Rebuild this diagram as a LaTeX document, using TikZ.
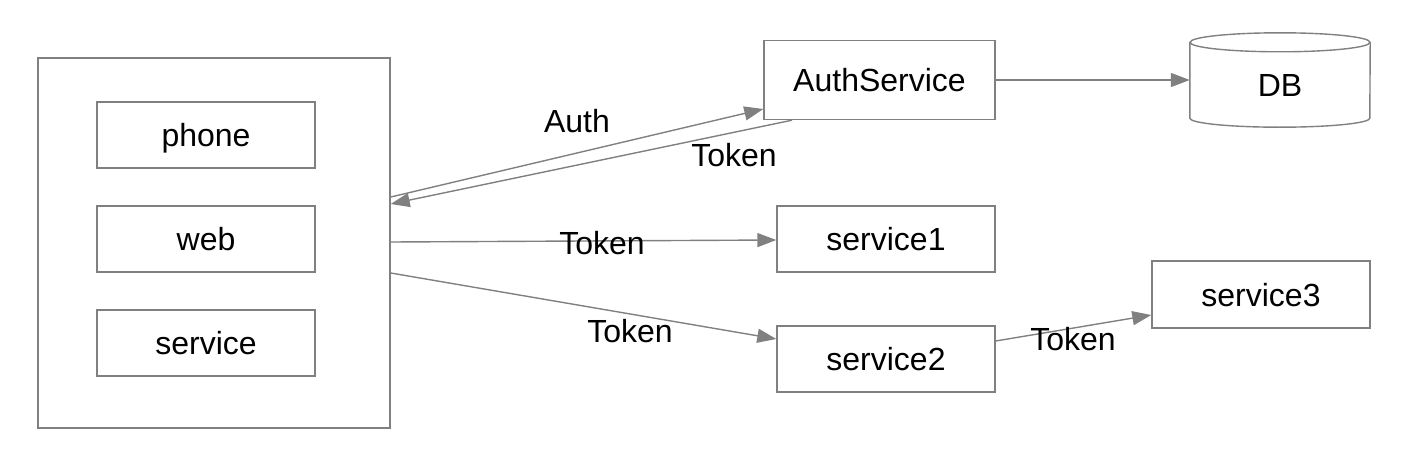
\documentclass[tikz,border=0pt]{standalone}
\usepackage{fontspec}
\setmainfont{Liberation Sans}
\usetikzlibrary{arrows.meta,calc}
\definecolor{edge}{RGB}{128,128,128}
\tikzset{
  txt/.style={font=\fontsize{32}{36}\selectfont, text height=23pt, text depth=0pt},
  box/.style={draw=edge, line width=1.4pt, rectangle, inner sep=0pt, txt},
  conn/.style={draw=edge, line width=1.4pt, -{Triangle[length=19pt,width=14pt]}},
  lbl/.style={inner sep=0pt, txt}
}
\begin{document}
\begin{tikzpicture}[x=1pt,y=-1pt]
\useasboundingbox (0,0) rectangle (1404,452);
% client group
\node[box, minimum width=352pt, minimum height=370pt] (outer) at (214,243) {};
\node[box, minimum width=218pt, minimum height=66pt] (phone) at (206,135) {phone};
\node[box, minimum width=218pt, minimum height=66pt] (web) at (206,239) {web};
\node[box, minimum width=218pt, minimum height=66pt] (service) at (206,343) {service};
% services
\node[box, minimum width=231pt, minimum height=79pt] (auth) at (879.5,80) {AuthService};
\node[box, minimum width=218pt, minimum height=66pt] (s1) at (886,239) {service1};
\node[box, minimum width=218pt, minimum height=66pt] (s2) at (886,359) {service2};
\node[box, minimum width=218pt, minimum height=67pt] (s3) at (1261,294.5) {service3};
% database cylinder
\node[inner sep=0pt, minimum width=180pt, minimum height=94pt] (db) at (1280,80) {};
\draw[draw=edge, line width=1.4pt]
  ([yshift=-9.5pt]db.north west) -- ([yshift=9pt]db.south west)
  arc[start angle=180, end angle=360, x radius=90pt, y radius=9pt]
  -- ([yshift=-9.5pt]db.north east);
\draw[draw=edge, line width=1.4pt] ([yshift=-9.5pt]db.north) ellipse[x radius=90pt, y radius=9.5pt];
\node[lbl] (dblabel) at ([yshift=-4.5pt]db.center) {DB};
% connectors
\draw[conn] ([yshift=46pt]outer.east) -- ([yshift=-29pt]auth.west);
\draw[conn] ([xshift=-87.5pt]auth.south) -- ([yshift=39pt]outer.east);
\draw[conn] ([yshift=1pt]outer.east) -- ([yshift=-1pt]s1.west);
\draw[conn] ([yshift=-30pt]outer.east) -- ([yshift=20pt]s2.west);
\draw[conn] ([yshift=18pt]s2.east) -- ([yshift=-20.5pt]s3.west);
\draw[conn] (auth.east) -- (db.west);
% labels
\node[lbl] (lauth) at (577,121) {Auth};
\node[lbl] (ltok0) at (734,154.5) {Token};
\node[lbl] (ltok1) at (602,242.5) {Token};
\node[lbl] (ltok2) at (630,331) {Token};
\node[lbl] (ltok3) at (1073,339) {Token};
\end{tikzpicture}
\end{document}
